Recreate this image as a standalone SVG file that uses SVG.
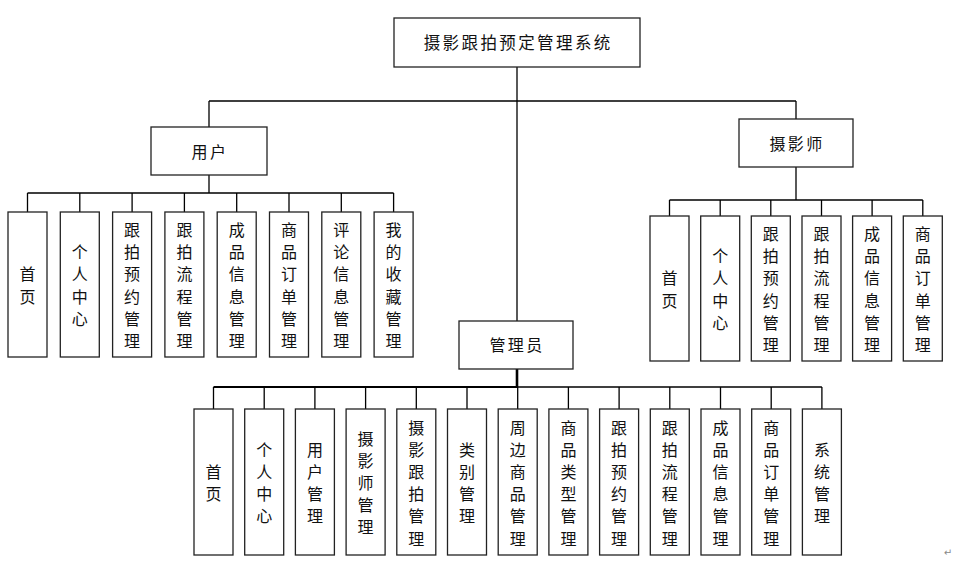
<svg xmlns="http://www.w3.org/2000/svg" width="965" height="561" viewBox="0 0 965 561">
<style>
.box{fill:#fff;stroke:#222;stroke-width:1.3}
.ln{fill:none;stroke:#000;stroke-width:1.3}
.t{font-family:"Noto Sans CJK SC","Noto Sans",sans-serif;font-size:16px;fill:#111;text-anchor:middle;dominant-baseline:central}
.h{letter-spacing:2.4px}
</style>
<rect width="965" height="561" fill="#fff"/>
<g id="connectors">
<path class="ln" d="M517 67V321M209 101H796M209 101V127M796 101V119"/>
<path class="ln" d="M209 175V193M27.5 193H393.6M27.5 193V212M79.8 193V212M132.1 193V212M184.4 193V212M236.7 193V212M289 193V212M341.3 193V212M393.6 193V212"/>
<path class="ln" d="M796 167V200M669.5 200H922.8M669.5 200V216M720.2 200V216M770.8 200V216M821.5 200V216M872.1 200V216M922.8 200V216"/>
<path class="ln" style="stroke-width:2.6" d="M517 369V387"/>
<path class="ln" style="stroke-width:1.8" d="M213.5 387H517"/>
<path class="ln" d="M517 387H821.9M213.5 387V409M264.2 387V409M314.9 387V409M365.6 387V409M416.3 387V409M467 387V409M517.7 387V409M568.4 387V409M619.1 387V409M669.8 387V409M720.5 387V409M771.2 387V409M821.9 387V409"/>
</g>
<g id="root"><rect class="box" x="394" y="18" width="246" height="49"/><text class="t h" x="518.2" y="42" style="font-size:16.5px">摄影跟拍预定管理系统</text></g>
<g id="user"><rect class="box" x="151" y="127" width="116" height="48"/><text class="t h" x="210" y="151">用户</text></g>
<g id="photographer"><rect class="box" x="739" y="119" width="114" height="48"/><text class="t h" x="797" y="143">摄影师</text></g>
<g id="admin"><rect class="box" x="459" y="321" width="114" height="48"/><text class="t h" x="517" y="344">管理员</text></g>

<g id="u1"><rect class="box" x="8" y="212" width="39" height="145"/><text class="t"><tspan x="27.5" y="273.4">首</tspan><tspan x="27.5" y="295.6">页</tspan></text></g>
<g id="u2"><rect class="box" x="60.3" y="212" width="39" height="145"/><text class="t"><tspan x="79.8" y="251.2">个</tspan><tspan x="79.8" y="273.4">人</tspan><tspan x="79.8" y="295.6">中</tspan><tspan x="79.8" y="317.8">心</tspan></text></g>
<g id="u3"><rect class="box" x="112.6" y="212" width="39" height="145"/><text class="t"><tspan x="132.1" y="229">跟</tspan><tspan x="132.1" y="251.2">拍</tspan><tspan x="132.1" y="273.4">预</tspan><tspan x="132.1" y="295.6">约</tspan><tspan x="132.1" y="317.8">管</tspan><tspan x="132.1" y="340">理</tspan></text></g>
<g id="u4"><rect class="box" x="164.9" y="212" width="39" height="145"/><text class="t"><tspan x="184.4" y="229">跟</tspan><tspan x="184.4" y="251.2">拍</tspan><tspan x="184.4" y="273.4">流</tspan><tspan x="184.4" y="295.6">程</tspan><tspan x="184.4" y="317.8">管</tspan><tspan x="184.4" y="340">理</tspan></text></g>
<g id="u5"><rect class="box" x="217.2" y="212" width="39" height="145"/><text class="t"><tspan x="236.7" y="229">成</tspan><tspan x="236.7" y="251.2">品</tspan><tspan x="236.7" y="273.4">信</tspan><tspan x="236.7" y="295.6">息</tspan><tspan x="236.7" y="317.8">管</tspan><tspan x="236.7" y="340">理</tspan></text></g>
<g id="u6"><rect class="box" x="269.5" y="212" width="39" height="145"/><text class="t"><tspan x="289" y="229">商</tspan><tspan x="289" y="251.2">品</tspan><tspan x="289" y="273.4">订</tspan><tspan x="289" y="295.6">单</tspan><tspan x="289" y="317.8">管</tspan><tspan x="289" y="340">理</tspan></text></g>
<g id="u7"><rect class="box" x="321.8" y="212" width="39" height="145"/><text class="t"><tspan x="341.3" y="229">评</tspan><tspan x="341.3" y="251.2">论</tspan><tspan x="341.3" y="273.4">信</tspan><tspan x="341.3" y="295.6">息</tspan><tspan x="341.3" y="317.8">管</tspan><tspan x="341.3" y="340">理</tspan></text></g>
<g id="u8"><rect class="box" x="374.1" y="212" width="39" height="145"/><text class="t"><tspan x="393.6" y="229">我</tspan><tspan x="393.6" y="251.2">的</tspan><tspan x="393.6" y="273.4">收</tspan><tspan x="393.6" y="295.6">藏</tspan><tspan x="393.6" y="317.8">管</tspan><tspan x="393.6" y="340">理</tspan></text></g>

<g id="p1"><rect class="box" x="650" y="216" width="39" height="145"/><text class="t"><tspan x="669.5" y="277.4">首</tspan><tspan x="669.5" y="299.6">页</tspan></text></g>
<g id="p2"><rect class="box" x="700.7" y="216" width="39" height="145"/><text class="t"><tspan x="720.2" y="255.2">个</tspan><tspan x="720.2" y="277.4">人</tspan><tspan x="720.2" y="299.6">中</tspan><tspan x="720.2" y="321.8">心</tspan></text></g>
<g id="p3"><rect class="box" x="751.3" y="216" width="39" height="145"/><text class="t"><tspan x="770.8" y="233">跟</tspan><tspan x="770.8" y="255.2">拍</tspan><tspan x="770.8" y="277.4">预</tspan><tspan x="770.8" y="299.6">约</tspan><tspan x="770.8" y="321.8">管</tspan><tspan x="770.8" y="344">理</tspan></text></g>
<g id="p4"><rect class="box" x="802" y="216" width="39" height="145"/><text class="t"><tspan x="821.5" y="233">跟</tspan><tspan x="821.5" y="255.2">拍</tspan><tspan x="821.5" y="277.4">流</tspan><tspan x="821.5" y="299.6">程</tspan><tspan x="821.5" y="321.8">管</tspan><tspan x="821.5" y="344">理</tspan></text></g>
<g id="p5"><rect class="box" x="852.6" y="216" width="39" height="145"/><text class="t"><tspan x="872.1" y="233">成</tspan><tspan x="872.1" y="255.2">品</tspan><tspan x="872.1" y="277.4">信</tspan><tspan x="872.1" y="299.6">息</tspan><tspan x="872.1" y="321.8">管</tspan><tspan x="872.1" y="344">理</tspan></text></g>
<g id="p6"><rect class="box" x="903.3" y="216" width="39" height="145"/><text class="t"><tspan x="922.8" y="233">商</tspan><tspan x="922.8" y="255.2">品</tspan><tspan x="922.8" y="277.4">订</tspan><tspan x="922.8" y="299.6">单</tspan><tspan x="922.8" y="321.8">管</tspan><tspan x="922.8" y="344">理</tspan></text></g>

<g id="a1"><rect class="box" x="194" y="409" width="39" height="146"/><text class="t"><tspan x="213.5" y="470.9">首</tspan><tspan x="213.5" y="493.1">页</tspan></text></g>
<g id="a2"><rect class="box" x="244.7" y="409" width="39" height="146"/><text class="t"><tspan x="264.2" y="448.7">个</tspan><tspan x="264.2" y="470.9">人</tspan><tspan x="264.2" y="493.1">中</tspan><tspan x="264.2" y="515.3">心</tspan></text></g>
<g id="a3"><rect class="box" x="295.4" y="409" width="39" height="146"/><text class="t"><tspan x="314.9" y="448.7">用</tspan><tspan x="314.9" y="470.9">户</tspan><tspan x="314.9" y="493.1">管</tspan><tspan x="314.9" y="515.3">理</tspan></text></g>
<g id="a4"><rect class="box" x="346.1" y="409" width="39" height="146"/><text class="t"><tspan x="365.6" y="437.6">摄</tspan><tspan x="365.6" y="459.8">影</tspan><tspan x="365.6" y="482">师</tspan><tspan x="365.6" y="504.2">管</tspan><tspan x="365.6" y="526.4">理</tspan></text></g>
<g id="a5"><rect class="box" x="396.8" y="409" width="39" height="146"/><text class="t"><tspan x="416.3" y="426.5">摄</tspan><tspan x="416.3" y="448.7">影</tspan><tspan x="416.3" y="470.9">跟</tspan><tspan x="416.3" y="493.1">拍</tspan><tspan x="416.3" y="515.3">管</tspan><tspan x="416.3" y="537.5">理</tspan></text></g>
<g id="a6"><rect class="box" x="447.5" y="409" width="39" height="146"/><text class="t"><tspan x="467" y="448.7">类</tspan><tspan x="467" y="470.9">别</tspan><tspan x="467" y="493.1">管</tspan><tspan x="467" y="515.3">理</tspan></text></g>
<g id="a7"><rect class="box" x="498.2" y="409" width="39" height="146"/><text class="t"><tspan x="517.7" y="426.5">周</tspan><tspan x="517.7" y="448.7">边</tspan><tspan x="517.7" y="470.9">商</tspan><tspan x="517.7" y="493.1">品</tspan><tspan x="517.7" y="515.3">管</tspan><tspan x="517.7" y="537.5">理</tspan></text></g>
<g id="a8"><rect class="box" x="548.9" y="409" width="39" height="146"/><text class="t"><tspan x="568.4" y="426.5">商</tspan><tspan x="568.4" y="448.7">品</tspan><tspan x="568.4" y="470.9">类</tspan><tspan x="568.4" y="493.1">型</tspan><tspan x="568.4" y="515.3">管</tspan><tspan x="568.4" y="537.5">理</tspan></text></g>
<g id="a9"><rect class="box" x="599.6" y="409" width="39" height="146"/><text class="t"><tspan x="619.1" y="426.5">跟</tspan><tspan x="619.1" y="448.7">拍</tspan><tspan x="619.1" y="470.9">预</tspan><tspan x="619.1" y="493.1">约</tspan><tspan x="619.1" y="515.3">管</tspan><tspan x="619.1" y="537.5">理</tspan></text></g>
<g id="a10"><rect class="box" x="650.3" y="409" width="39" height="146"/><text class="t"><tspan x="669.8" y="426.5">跟</tspan><tspan x="669.8" y="448.7">拍</tspan><tspan x="669.8" y="470.9">流</tspan><tspan x="669.8" y="493.1">程</tspan><tspan x="669.8" y="515.3">管</tspan><tspan x="669.8" y="537.5">理</tspan></text></g>
<g id="a11"><rect class="box" x="701" y="409" width="39" height="146"/><text class="t"><tspan x="720.5" y="426.5">成</tspan><tspan x="720.5" y="448.7">品</tspan><tspan x="720.5" y="470.9">信</tspan><tspan x="720.5" y="493.1">息</tspan><tspan x="720.5" y="515.3">管</tspan><tspan x="720.5" y="537.5">理</tspan></text></g>
<g id="a12"><rect class="box" x="751.7" y="409" width="39" height="146"/><text class="t"><tspan x="771.2" y="426.5">商</tspan><tspan x="771.2" y="448.7">品</tspan><tspan x="771.2" y="470.9">订</tspan><tspan x="771.2" y="493.1">单</tspan><tspan x="771.2" y="515.3">管</tspan><tspan x="771.2" y="537.5">理</tspan></text></g>
<g id="a13"><rect class="box" x="802.4" y="409" width="39" height="146"/><text class="t"><tspan x="821.9" y="448.7">系</tspan><tspan x="821.9" y="470.9">统</tspan><tspan x="821.9" y="493.1">管</tspan><tspan x="821.9" y="515.3">理</tspan></text></g>
<text x="948" y="552" style="font-family:'DejaVu Sans',sans-serif;font-size:10px;fill:#888;text-anchor:middle;dominant-baseline:central">↵</text>
</svg>
